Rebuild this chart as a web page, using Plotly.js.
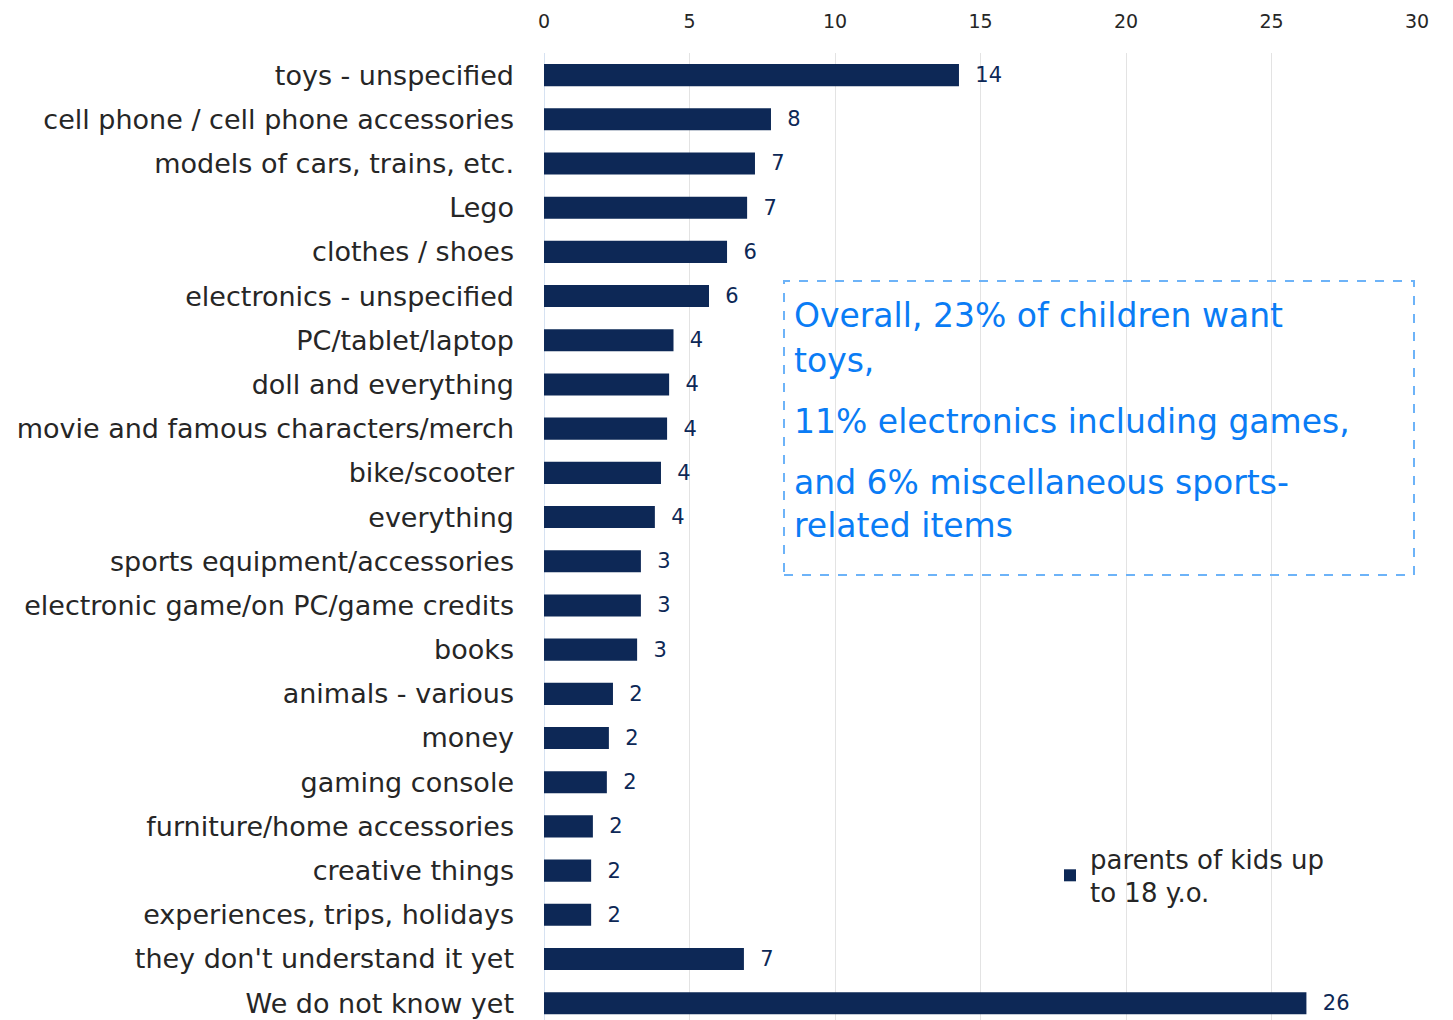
<!DOCTYPE html>
<html>
<head>
<meta charset="utf-8">
<script src="https://cdn.plot.ly/plotly-3.0.1.min.js"></script>
<style>html,body{margin:0;padding:0;background:#fff;}#chart{width:1453px;height:1020px;}</style>
</head>
<body>
<div id="chart"></div>
<script>
const categories = [
  "toys - unspecified",
  "cell phone / cell phone accessories",
  "models of cars, trains, etc.",
  "Lego",
  "clothes / shoes",
  "electronics - unspecified",
  "PC/tablet/laptop",
  "doll and everything",
  "movie and famous characters/merch",
  "bike/scooter",
  "everything",
  "sports equipment/accessories",
  "electronic game/on PC/game credits",
  "books",
  "animals - various",
  "money",
  "gaming console",
  "furniture/home accessories",
  "creative things",
  "experiences, trips, holidays",
  "they don't understand it yet",
  "We do not know yet"
];
const values = [14.26, 7.8, 7.25, 6.98, 6.29, 5.67, 4.45, 4.3, 4.23, 4.02, 3.81, 3.33, 3.33, 3.2, 2.37, 2.23, 2.16, 1.68, 1.62, 1.62, 6.87, 26.2];
const valueLabels = ["14","8","7","7","6","6","4","4","4","4","4","3","3","3","2","2","2","2","2","2","7","26"];
const seriesName = "parents of kids up<br>to 18 y.o.";
const xTicks = [0, 5, 10, 15, 20, 25, 30];
const noteLines = [
  "Overall, 23% of children want",
  "toys,",
  "11% electronics including games,",
  "and 6% miscellaneous sports-",
  "related items"
];

const FONT = "Comic Sans MS, DejaVu Sans, sans-serif";

const trace = {
  type: 'bar',
  orientation: 'h',
  x: values,
  y: categories,
  name: seriesName,
  marker: {color: '#0d2856'},
  text: valueLabels.map(t => '  ' + t),
  textposition: 'outside',
  constraintext: 'none',
  cliponaxis: false,
  textfont: {family: FONT, size: 21, color: '#0d2856'},
  hoverinfo: 'skip'
};

// pixel helpers for the note box (plot area: x 544..1417, y 53..1020)
const px = x => (x - 544) / 873;
const py = y => (1020 - y) / 967;
const noteY = [315, 360, 422, 482, 525];

const layout = {
  width: 1453,
  height: 1020,
  margin: {l: 544, r: 36, t: 53, b: 0},
  paper_bgcolor: '#ffffff',
  plot_bgcolor: '#ffffff',
  bargap: 0.5,
  showlegend: true,
  legend: {
    x: px(1050), y: py(835), xanchor: 'left', yanchor: 'top',
    font: {family: FONT, size: 26, color: '#262626'},
    bgcolor: 'rgba(0,0,0,0)',
    itemwidth: 30
  },
  xaxis: {
    side: 'top',
    range: [0, 30],
    tickvals: xTicks,
    ticktext: xTicks.map(String),
    showgrid: true,
    gridcolor: '#e3e3e3',
    gridwidth: 1,
    zeroline: true,
    zerolinecolor: '#d6e2f2',
    zerolinewidth: 1,
    ticks: '',
    ticklabelstandoff: 20,
    tickfont: {family: FONT, size: 19, color: '#262626'},
    fixedrange: true
  },
  yaxis: {
    type: 'category',
    range: [21.38, -0.5],
    autorange: false,
    ticks: '',
    ticklabelstandoff: 29,
    tickfont: {family: FONT, size: 27, color: '#262626'},
    showgrid: false,
    zeroline: false,
    fixedrange: true
  },
  shapes: [{
    type: 'rect', xref: 'paper', yref: 'paper',
    x0: px(784), x1: px(1414),
    y0: py(575), y1: py(281),
    line: {color: '#6db3f8', width: 2, dash: 'dash'},
    fillcolor: 'rgba(0,0,0,0)'
  }],
  annotations: noteLines.map((t, i) => ({
    text: t, xref: 'paper', yref: 'paper',
    x: px(792), y: py(noteY[i]),
    xanchor: 'left', yanchor: 'middle', align: 'left', showarrow: false,
    font: {family: FONT, size: 33, color: '#0a7cf5'}
  }))
};

Plotly.newPlot('chart', [trace], layout, {displayModeBar: false, staticPlot: true});
</script>
</body>
</html>
